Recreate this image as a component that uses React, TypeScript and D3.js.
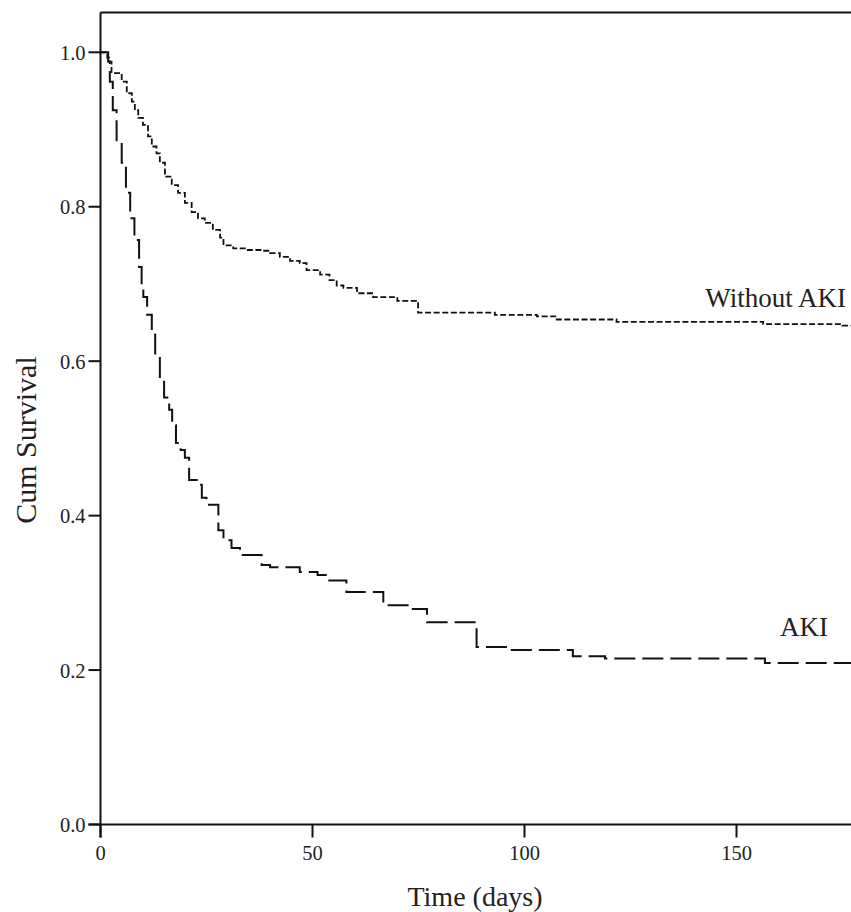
import React from "react";
import * as d3 from "d3";

// Kaplan–Meier step points: [time in days, cumulative survival after the step]
const withoutAkiSteps: [number, number][] = [
  [0, 1.0], [1.6, 0.993], [2.0, 0.988], [2.6, 0.973], [5.0, 0.962], [6.2, 0.947],
  [7.4, 0.936], [8.1, 0.925], [8.9, 0.915], [10.0, 0.906], [11.2, 0.891],
  [12.1, 0.878], [13.2, 0.869], [14.0, 0.857], [15.2, 0.839], [16.8, 0.828],
  [18.3, 0.818], [19.9, 0.805], [21.5, 0.793], [23.0, 0.785], [24.6, 0.779],
  [26.5, 0.770], [28.2, 0.760], [29.0, 0.750], [31.3, 0.746], [34.5, 0.744],
  [38.3, 0.743], [40.0, 0.740], [42.3, 0.735], [44.7, 0.730], [47.0, 0.727],
  [48.6, 0.718], [51.8, 0.712], [54.0, 0.705], [55.7, 0.698], [57.3, 0.695],
  [60.5, 0.688], [64.3, 0.683], [70.0, 0.678], [74.9, 0.663], [93.0, 0.660],
  [102.9, 0.658], [107.6, 0.654], [121.7, 0.651], [156.3, 0.648], [175.0, 0.646],
  [180, 0.646],
];

const akiSteps: [number, number][] = [
  [0, 1.0], [1.8, 0.988], [2.2, 0.962], [2.9, 0.925], [3.8, 0.886], [5.0, 0.857],
  [6.0, 0.818], [7.0, 0.785], [8.0, 0.757], [9.1, 0.722], [9.7, 0.696],
  [10.1, 0.683], [11.0, 0.660], [12.1, 0.639], [12.9, 0.608], [14.0, 0.576],
  [15.0, 0.553], [16.2, 0.537], [16.9, 0.517], [17.8, 0.494], [18.9, 0.485],
  [19.9, 0.475], [20.9, 0.446], [22.7, 0.440], [23.9, 0.423], [25.0, 0.414],
  [27.8, 0.381], [29.0, 0.368], [30.9, 0.358], [32.9, 0.349], [38.0, 0.336],
  [40.0, 0.333], [47.0, 0.327], [51.2, 0.323], [53.4, 0.316], [58.0, 0.301],
  [66.7, 0.284], [73.0, 0.279], [77.0, 0.262], [88.7, 0.230], [97.0, 0.226],
  [111.4, 0.218], [119.0, 0.215], [156.7, 0.209], [180, 0.209],
];

const xTicks = [0, 50, 100, 150];
const yTicks = [0.0, 0.2, 0.4, 0.6, 0.8, 1.0];
const seriesLabels = ["Without AKI", "AKI"];

const W = 851;
const H = 912;
const FONT = "'Liberation Serif', 'Times New Roman', serif";

export default function App() {
  const x = d3.scaleLinear().domain([0, 180]).range([100.5, 863.7]);
  const y = d3.scaleLinear().domain([0, 1]).range([824.5, 52.3]);

  const line = d3
    .line<[number, number]>()
    .x((d) => x(d[0]))
    .y((d) => y(d[1]))
    .curve(d3.curveStepAfter);

  const x0 = x(0);
  const y0 = y(0);
  const top = 12.5;

  return (
    <div style={{ position: "absolute", left: 0, top: 0 }}>
      <svg width={W} height={H} style={{ display: "block", background: "#fff" }}>
        {/* frame */}
        <line x1={x0} x2={W + 10} y1={top} y2={top} stroke="#111" strokeWidth={2} />
        <line x1={x0} x2={x0} y1={top} y2={y0 + 13} stroke="#111" strokeWidth={2} />
        <line x1={x0 - 12} x2={W + 10} y1={y0} y2={y0} stroke="#111" strokeWidth={2} />

        {/* y ticks */}
        {yTicks.map((t) => (
          <g key={"y" + t}>
            <line x1={x0 - 12} x2={x0} y1={y(t)} y2={y(t)} stroke="#111" strokeWidth={2} />
            <text
              x={x0 - 15}
              y={y(t) + 7.5}
              textAnchor="end"
              fontFamily={FONT}
              fontSize={20.5}
              fill="#222"
            >
              {t.toFixed(1)}
            </text>
          </g>
        ))}

        {/* x ticks */}
        {xTicks.map((t) => (
          <g key={"x" + t}>
            <line x1={x(t)} x2={x(t)} y1={y0} y2={y0 + 13} stroke="#111" strokeWidth={2} />
            <text
              x={x(t)}
              y={y0 + 35}
              textAnchor="middle"
              fontFamily={FONT}
              fontSize={20.5}
              fill="#222"
            >
              {t}
            </text>
          </g>
        ))}

        {/* axis titles */}
        <text
          x={475}
          y={906}
          textAnchor="middle"
          fontFamily={FONT}
          fontSize={28}
          fill="#222"
        >
          Time (days)
        </text>
        <text
          transform={`translate(36, 440) rotate(-90)`}
          textAnchor="middle"
          fontFamily={FONT}
          fontSize={30}
          fill="#222"
        >
          Cum Survival
        </text>

        {/* survival curves */}
        <path
          d={line(withoutAkiSteps) || ""}
          fill="none"
          stroke="#111"
          strokeWidth={1.8}
          strokeDasharray="6 2.6"
        />
        <path
          d={line(akiSteps) || ""}
          fill="none"
          stroke="#111"
          strokeWidth={2}
          strokeDasharray="21 7"
        />

        {/* curve labels */}
        <text x={846} y={307} textAnchor="end" fontFamily={FONT} fontSize={27} fill="#222">
          {seriesLabels[0]}
        </text>
        <text x={828} y={636} textAnchor="end" fontFamily={FONT} fontSize={27} fill="#222">
          {seriesLabels[1]}
        </text>
      </svg>
    </div>
  );
}
